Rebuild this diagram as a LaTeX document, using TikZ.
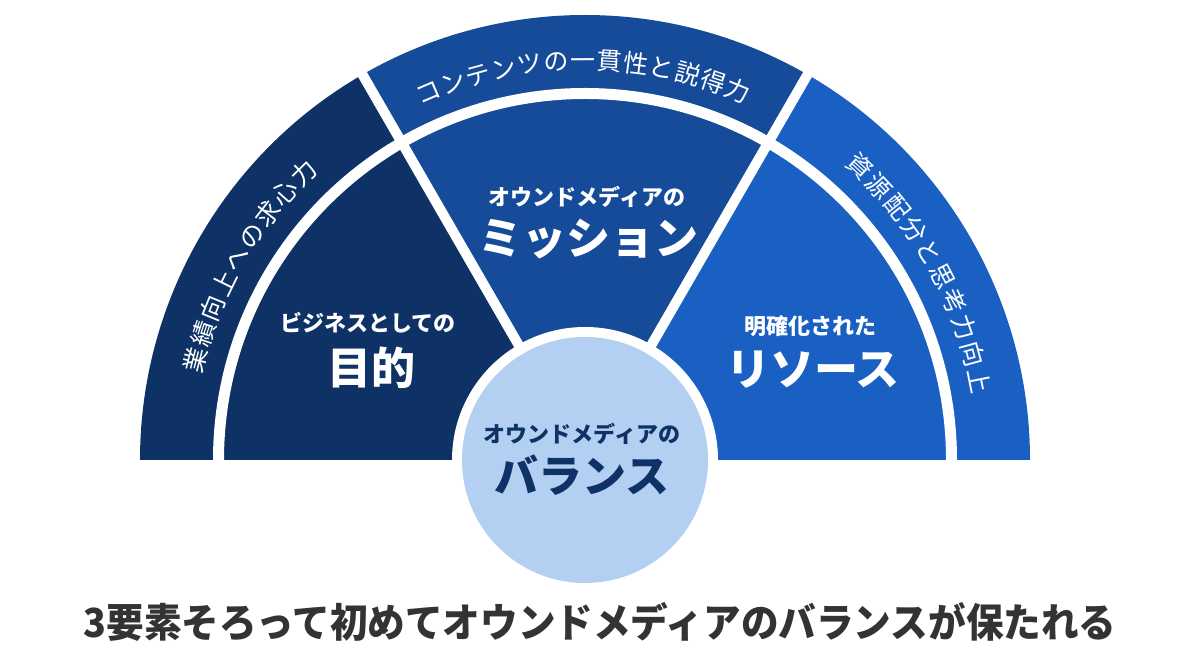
\documentclass[tikz,border=0pt]{standalone}
\usepackage{fontspec}
\setmainfont{Noto Sans CJK JP}
\definecolor{navy}{HTML}{0E3265}
\definecolor{midblue}{HTML}{164B9A}
\definecolor{brightblue}{HTML}{1A60C2}
\definecolor{lightblue}{HTML}{B3D0F2}
\definecolor{deepgray}{HTML}{333333}
\tikzset{
  arcch/.style={text=white, font=\fontsize{25}{25}\selectfont, inner sep=0pt, text height=22pt, text depth=3pt},
  sublab/.style={font=\bfseries\fontsize{22}{22}\selectfont, inner sep=0pt, text height=19.4pt, text depth=2.6pt},
  biglab/.style={font=\bfseries\fontsize{44}{44}\selectfont, inner sep=0pt, text height=38.7pt, text depth=5.3pt},
  gapline/.style={white, line width=10pt},
}
\begin{document}
\begin{tikzpicture}[x=1pt,y=1pt]
\useasboundingbox (0,0) rectangle (1200,655);
\fill[white] (0,0) rectangle (1200,655);
\coordinate (C) at (585,195);
% three wedges
\fill[navy] (C) -- ++(180:445) arc[start angle=180,end angle=120,radius=445] -- cycle;
\fill[midblue] (C) -- ++(120:445) arc[start angle=120,end angle=60,radius=445] -- cycle;
\fill[brightblue] (C) -- ++(60:445) arc[start angle=60,end angle=0,radius=445] -- cycle;
% white gaps
\draw[white,line width=11pt] (C) ++(180:366.5) arc[start angle=180,end angle=0,radius=366.5];
\draw[gapline] (C) -- ++(120:470);
\draw[gapline] (C) -- ++(60:470);
% centre circle
\fill[white] (C) circle[radius=133];
\node[circle, fill=lightblue, minimum size=246pt, inner sep=0pt] (ball) at (C) {};
% arc texts
\foreach \ch [count=\i] in {業,績,向,上,へ,の,求,心,力} {
  \pgfmathsetmacro\ang{165.6-3.9*(\i-1)}
  \node[arcch, rotate=\ang-90] (L\i) at ([shift={(\ang:402)}]C) {\ch};
}
\foreach \ch [count=\i] in {コ,ン,テ,ン,ツ,の,一,貫,性,と,説,得,力} {
  \pgfmathsetmacro\ang{113.1-3.8*(\i-1)}
  \node[arcch, rotate=\ang-90] (T\i) at ([shift={(\ang:400)}]C) {\ch};
}
\foreach \ch [count=\i] in {資,源,配,分,と,思,考,力,向,上} {
  \pgfmathsetmacro\ang{46.9-3.95*(\i-1)}
  \node[arcch, rotate=\ang-90] (R\i) at ([shift={(\ang:402)}]C) {\ch};
}
% sector labels
\node[sublab, text=white] (l1) at (368,332) {ビジネスとしての};
\node[biglab, text=white] (l2) at (371,287) {目的};
\node[sublab, text=white] (m1) at (587,458) {オウンドメディアの};
\node[biglab, text=white] (m2) at (588,417) {ミッション};
\node[sublab, text=white] (r1) at (810,329) {明確化された};
\node[biglab, text=white] (r2) at (813,286) {リソース};
\node[sublab, text=navy] (c1) at (582,221) {オウンドメディアの};
\node[biglab, text=navy] (c2) at (582,179) {バランス};
% bottom caption
\node[font=\bfseries\fontsize{40}{40}\selectfont, text=deepgray, inner sep=0pt] (cap) at (600,32.5) {\scalebox{0.94}[1]{\rule[-4.8pt]{0pt}{40pt}3要素そろって初めてオウンドメディアのバランスが保たれる}};
\end{tikzpicture}
\end{document}
